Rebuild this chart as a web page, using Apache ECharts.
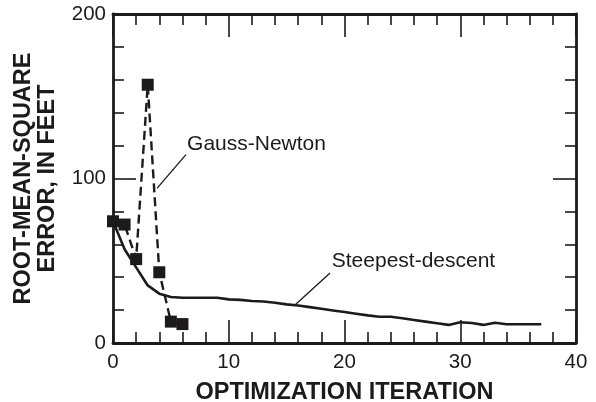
<!DOCTYPE html>
<html>
<head>
<meta charset="utf-8">
<script src="https://cdn.jsdelivr.net/npm/echarts@6/dist/echarts.min.js"></script>
<style>
  html, body { margin: 0; padding: 0; background: #fff; }
  #chart { width: 596px; height: 402px; }
</style>
</head>
<body>
<div id="chart"></div>
<script>
// Gauss-Newton iterations and RMS error (feet)
const gaussIter = [0, 1, 2, 3, 4, 5, 6];
const gaussErr  = [74, 72, 51, 157, 43, 13, 11.5];

// Steepest-descent iterations and RMS error (feet)
const steepIter = [0, 1, 2, 3, 4, 5, 6, 7, 8, 9, 10, 11, 12, 13, 14, 15, 16, 17, 18, 19,
                   20, 21, 22, 23, 24, 25, 26, 27, 28, 29, 30, 31, 32, 33, 34, 35, 36, 37];
const steepErr  = [74, 57, 46, 35, 30, 28, 27.5, 27.5, 27.5, 27.5, 26.5, 26.2, 25.5, 25.2,
                   24.5, 23.5, 22.8, 21.8, 20.8, 19.8, 18.8, 17.8, 16.8, 16, 16, 15, 14, 13,
                   12, 11, 12.6, 12.2, 11, 12.3, 11.4, 11.4, 11.4, 11.4];

// Axis ranges and tick labels
const xTicks = [0, 10, 20, 30, 40];
const yTicks = [0, 100, 200];

// Annotation leaders: [x0, y0, x1, y1] in data units, plus label anchor
const gaussNote = { text: 'Gauss-Newton', leader: [3.8, 94, 6.3, 114.5], at: [6.4, 121] };
const steepNote = { text: 'Steepest-descent', leader: [15.7, 23, 18.75, 42.5], at: [18.9, 50] };

const ink = '#1c1a1b';
const font = '"Liberation Sans", Arial, Helvetica, sans-serif';

const chart = echarts.init(document.getElementById('chart'));

function pairs(xs, ys) { return xs.map((x, i) => [x, ys[i]]); }

function axisBase() {
  return {
    type: 'value',
    axisLine: { show: true, onZero: false, lineStyle: { color: ink, width: 2.8 } },
    axisTick: { show: true, inside: true, length: 23, lineStyle: { color: ink, width: 1.6 } },
    minorTick: { show: true, splitNumber: 5, length: 11, lineStyle: { color: ink, width: 1.6 } },
    splitLine: { show: false },
    minorSplitLine: { show: false }
  };
}

chart.setOption({
  animation: false,
  backgroundColor: '#fff',
  grid: { left: 113, right: 20, top: 14, bottom: 59, containLabel: false, outerBoundsMode: 'none' },
  xAxis: [
    Object.assign(axisBase(), {
      position: 'bottom', min: xTicks[0], max: xTicks[xTicks.length - 1], interval: 10,
      axisLabel: { color: ink, fontFamily: font, fontSize: 20.5, margin: 9,
        formatter: v => xTicks.includes(v) ? String(v) : '' },
      name: 'OPTIMIZATION ITERATION', nameLocation: 'middle', nameGap: 38,
      nameTextStyle: { color: ink, fontFamily: font, fontSize: 23.5, fontWeight: 'bold' }
    }),
    Object.assign(axisBase(), {
      position: 'top', min: xTicks[0], max: xTicks[xTicks.length - 1], interval: 10,
      axisLabel: { show: false }
    })
  ],
  yAxis: [
    Object.assign(axisBase(), {
      position: 'left', min: yTicks[0], max: yTicks[yTicks.length - 1], interval: 100,
      axisLabel: { color: ink, fontFamily: font, fontSize: 20.5, margin: 7,
        formatter: v => yTicks.includes(v) ? String(v) : '' },
      name: 'ROOT-MEAN-SQUARE\nERROR, IN FEET', nameLocation: 'middle', nameGap: 53, nameRotate: 90,
      nameTextStyle: { color: ink, fontFamily: font, fontSize: 23.5, fontWeight: 'bold', lineHeight: 24 }
    }),
    Object.assign(axisBase(), {
      position: 'right', min: yTicks[0], max: yTicks[yTicks.length - 1], interval: 100,
      axisLabel: { show: false }
    })
  ],
  series: [
    {
      name: 'Steepest-descent', type: 'line', xAxisIndex: 0, yAxisIndex: 0,
      data: pairs(steepIter, steepErr), showSymbol: false, symbol: 'none',
      lineStyle: { color: ink, width: 2.6 }, z: 2
    },
    {
      name: 'Gauss-Newton', type: 'line', xAxisIndex: 0, yAxisIndex: 0,
      data: pairs(gaussIter, gaussErr), symbol: 'rect', symbolSize: 12,
      itemStyle: { color: ink, borderWidth: 0 },
      lineStyle: { color: ink, width: 2.4, type: [9, 5] }, z: 3
    }
  ]
});

// Leader lines and annotation text placed through the axis scales
function note(n) {
  const p0 = chart.convertToPixel({ gridIndex: 0 }, [n.leader[0], n.leader[1]]);
  const p1 = chart.convertToPixel({ gridIndex: 0 }, [n.leader[2], n.leader[3]]);
  const t = chart.convertToPixel({ gridIndex: 0 }, n.at);
  return [
    { type: 'line', shape: { x1: p0[0], y1: p0[1], x2: p1[0], y2: p1[1] },
      style: { stroke: ink, lineWidth: 1.3 }, z: 10 },
    { type: 'text', x: t[0], y: t[1],
      style: { text: n.text, fill: ink, font: '21px ' + font, textAlign: 'left', textVerticalAlign: 'middle' },
      z: 10 }
  ];
}
chart.setOption({ graphic: note(gaussNote).concat(note(steepNote)) });
</script>
</body>
</html>
